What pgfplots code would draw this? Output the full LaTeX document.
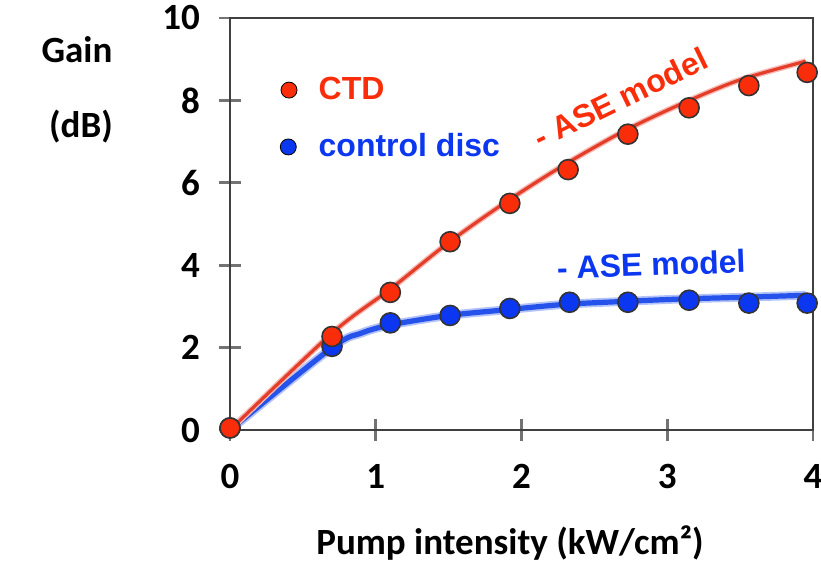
\documentclass[border=0pt]{standalone}
\usepackage{pgfplots}
\pgfplotsset{compat=1.18}
\usepackage{fontspec}
\setmainfont{Carlito}
\newfontfamily\arialfont{Liberation Sans}
\definecolor{ctdred}{RGB}{250,45,10}
\definecolor{linered}{RGB}{228,62,42}
\definecolor{discblue}{RGB}{12,55,240}
\definecolor{lineblue}{RGB}{38,82,236}
\newcommand{\lblfont}{\fontsize{18.5}{22}\selectfont\bfseries}
\newcommand{\notefont}{\arialfont\fontsize{16}{19}\selectfont\bfseries}

\begin{document}
\begin{tikzpicture}
\begin{axis}[
  at={(0,0)}, anchor=south west,
  scale only axis, width=291.5pt, height=206pt,
  xmin=0, xmax=4, ymin=0, ymax=10,
  xtick={0,1,2,3,4}, ytick={0,2,4,6,8,10},
  xtick pos=bottom, ytick pos=left,
  tick align=center, major tick length=11pt,
  tick style={draw=black!55, line width=1.4pt},
  axis line style={draw=black!75, line width=1.2pt},
  ticklabel style={font=\lblfont},
  xticklabel style={yshift=-8pt},
  yticklabel style={xshift=-6pt},
  /pgf/number format/assume math mode=true,
  clip=false,
]
% ASE model curves (soft underlay + line)
\addplot[lineblue!35, line width=4.4pt, smooth] coordinates {
  (0,0) (0.7,2.0) (0.9,2.35) (1.1,2.55) (1.5,2.78) (1.9,2.92)
  (2.3,3.05) (2.7,3.12) (3.1,3.18) (3.5,3.22) (3.95,3.27)};
\addplot[lineblue, line width=2.6pt, smooth] coordinates {
  (0,0) (0.7,2.0) (0.9,2.35) (1.1,2.55) (1.5,2.78) (1.9,2.92)
  (2.3,3.05) (2.7,3.12) (3.1,3.18) (3.5,3.22) (3.95,3.27)};
\addplot[linered!35, line width=3pt, smooth] coordinates {
  (0,0) (0.7,2.35) (1.1,3.42) (1.5,4.55) (1.9,5.55) (2.3,6.45)
  (2.7,7.25) (3.1,7.92) (3.5,8.5) (3.95,8.95)};
\addplot[linered, line width=1.6pt, smooth] coordinates {
  (0,0) (0.7,2.35) (1.1,3.42) (1.5,4.55) (1.9,5.55) (2.3,6.45)
  (2.7,7.25) (3.1,7.92) (3.5,8.5) (3.95,8.95)};
% measured gain: control disc
\addplot[only marks, mark=*, mark size=5pt,
  mark options={fill=discblue, draw=black!80, line width=0.8pt}] coordinates {
  (0,0.05) (0.70,2.03) (1.10,2.60) (1.51,2.78) (1.92,2.95)
  (2.33,3.10) (2.73,3.10) (3.15,3.15) (3.56,3.08) (3.96,3.08)};
% measured gain: CTD
\addplot[only marks, mark=*, mark size=5pt,
  mark options={fill=ctdred, draw=black!80, line width=0.8pt}] coordinates {
  (0,0.05) (0.70,2.27) (1.10,3.34) (1.51,4.57) (1.92,5.50)
  (2.32,6.32) (2.73,7.18) (3.15,7.82) (3.56,8.36) (3.96,8.68)};
% key markers
\addplot[only marks, mark=*, mark size=4pt, mark options={fill=ctdred, draw=none}]
  coordinates {(0.405,8.25)};
\addplot[only marks, mark=*, mark size=4pt, mark options={fill=discblue, draw=none}]
  coordinates {(0.40,6.87)};
\node[anchor=west, text=ctdred, font=\notefont] at (axis cs:0.56,8.30) {CTD};
\node[anchor=west, text=discblue, font=\notefont] at (axis cs:0.56,6.92) {control disc};
\node[text=ctdred, font=\notefont, rotate=26] at (axis cs:2.68,8.06) {- ASE model};
\node[text=discblue, font=\notefont, rotate=2] at (axis cs:2.89,4.02) {- ASE model};
\end{axis}
% axis titles
\node[font=\lblfont] at (-76.5pt,190pt) {Gain};
\node[font=\lblfont] at (-74.5pt,151.5pt) {(dB)};
\node[font=\lblfont] at (140pt,-56.5pt) {Pump intensity (kW/cm²)};
\pgfresetboundingbox
\useasboundingbox (-115pt,-66pt) rectangle (295.5pt,215pt);
\end{tikzpicture}
\end{document}
